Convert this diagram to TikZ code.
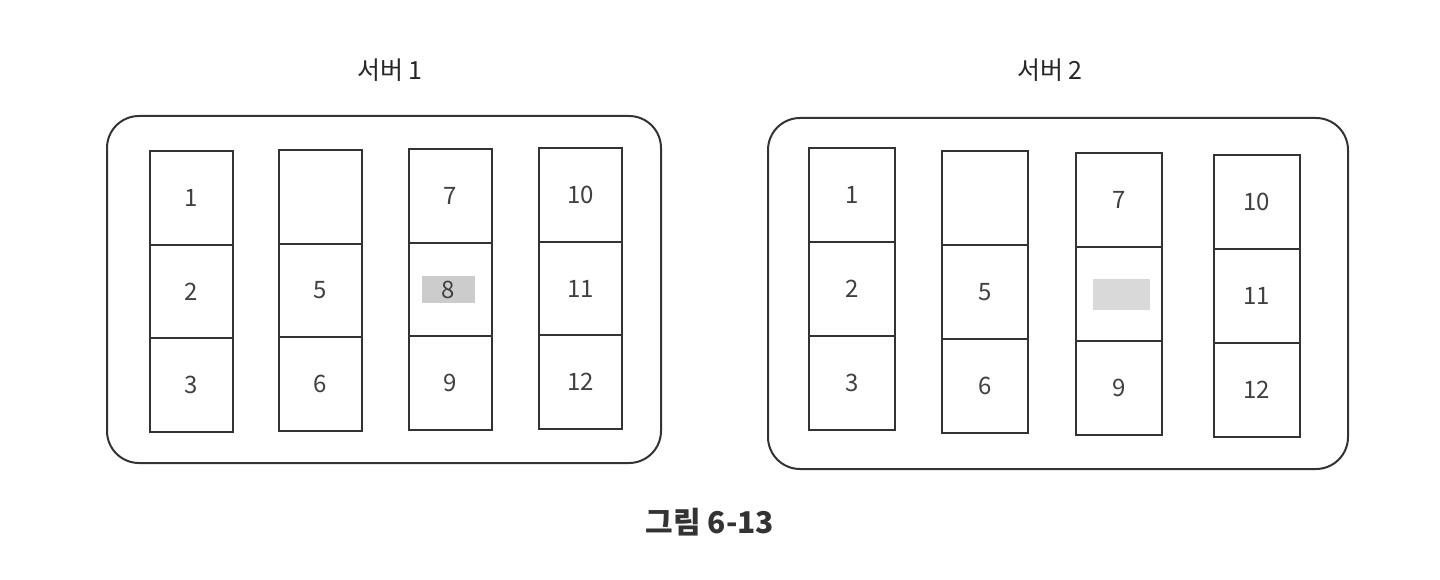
\documentclass[tikz,border=0pt]{standalone}
\usepackage{fontspec}
\setmainfont{Noto Sans CJK KR}
\begin{document}
\begin{tikzpicture}[x=1pt,y=-1pt,
  cell/.style={draw=black!80,line width=1.8pt,minimum width=83pt,minimum height=93.7pt,inner sep=0pt,
    font=\fontsize{24}{28}\selectfont,text=black!75,anchor=north west},
  cellb/.style={cell,minimum width=86pt,minimum height=94pt},
  server/.style={draw=black!80,line width=2pt,rounded corners=32pt,inner sep=0pt,anchor=north west},
  hl/.style={fill=gray!40,inner sep=0pt,font=\fontsize{24}{28}\selectfont,text=black!75},
  title/.style={font=\fontsize{25}{30}\selectfont,text=black!85},
  caption/.style={font=\fontsize{30}{34}\selectfont\bfseries,text=black!80}]
\useasboundingbox (0,0) rectangle (1440,580);
\fill[white] (0,0) rectangle (1440,580);
% titles
\node[title] (t1) at (390,70) {서버 1};
\node[title] (t2) at (1050,70) {서버 2};
\node[caption] (cap) at (710,522) {그림 6-13};
% frames
\node[server,minimum width=554pt,minimum height=347pt] (srv1) at (106,115) {};
\node[server,minimum width=580pt,minimum height=351pt] (srv2) at (767,117) {};
% server 1 cells
\node[cell] (a1) at (149,150) {1};
\node[cell] (a2) at (149,243.7) {2};
\node[cell] (a3) at (149,337.3) {3};
\node[cell] (a4) at (278,149) {};
\node[cell] (a5) at (278,242.7) {5};
\node[cell] (a6) at (278,336.3) {6};
\node[cell] (a7) at (408,148) {7};
\node[cell] (a8) at (408,241.7) {};
\node[cell] (a9) at (408,335.3) {9};
\node[cell] (a10) at (538,147) {10};
\node[cell] (a11) at (538,240.7) {11};
\node[cell] (a12) at (538,334.3) {12};
\node[hl,minimum width=53pt,minimum height=27pt] (h1) at ([xshift=-2pt]a8.center) {8};
% server 2 cells
\node[cellb] (b1) at (808,147) {1};
\node[cellb] (b2) at (808,241) {2};
\node[cellb] (b3) at (808,335) {3};
\node[cellb] (b4) at (941,150) {};
\node[cellb] (b5) at (941,244) {5};
\node[cellb] (b6) at (941,338) {6};
\node[cellb] (b7) at (1075,152) {7};
\node[cellb] (b8) at (1075,246) {};
\node[cellb] (b9) at (1075,340) {9};
\node[cellb] (b10) at (1213,154) {10};
\node[cellb] (b11) at (1213,248) {11};
\node[cellb] (b12) at (1213,342) {12};
\node[hl,fill=gray!30,minimum width=57pt,minimum height=31pt] (h2) at ([xshift=3pt,yshift=-1pt]b8.center) {};
\end{tikzpicture}
\end{document}
